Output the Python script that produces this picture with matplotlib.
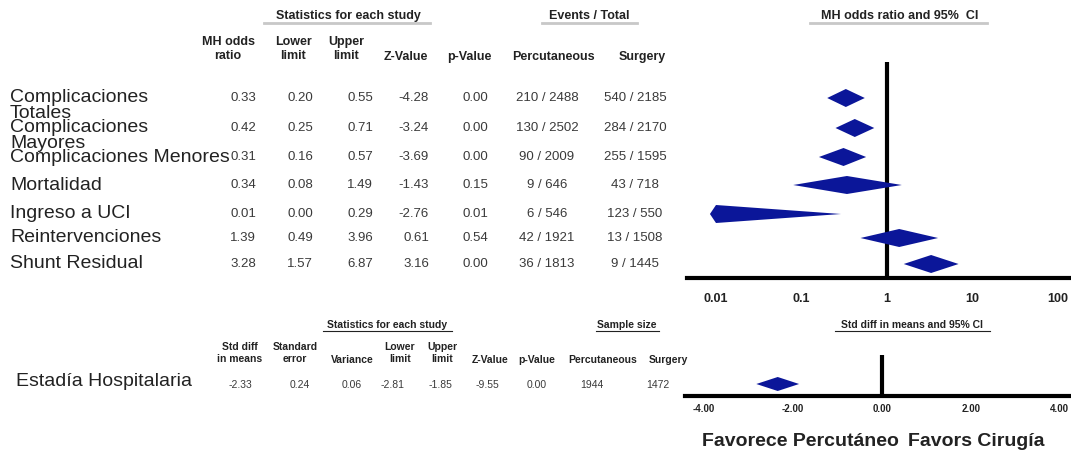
import numpy as np
import matplotlib
matplotlib.use("Agg")
from matplotlib import pyplot as plt

plt.rcParams['font.family'] = ['Liberation Sans', 'DejaVu Sans']

# ---- data: binary outcomes (MH odds ratio) ----
labels = ["Complicaciones\nTotales", "Complicaciones\nMayores", "Complicaciones Menores",
          "Mortalidad", "Ingreso a UCI", "Reintervenciones", "Shunt Residual"]
mh_or = [0.33, 0.42, 0.31, 0.34, 0.01, 1.39, 3.28]
lower = [0.20, 0.25, 0.16, 0.08, 0.00, 0.49, 1.57]
upper = [0.55, 0.71, 0.57, 1.49, 0.29, 3.96, 6.87]
z_val = [-4.28, -3.24, -3.69, -1.43, -2.76, 0.61, 3.16]
p_val = [0.00, 0.00, 0.00, 0.15, 0.01, 0.54, 0.00]
ev_perc = ["210 / 2488", "130 / 2502", "90 / 2009", "9 / 646", "6 / 546", "42 / 1921", "36 / 1813"]
ev_surg = ["540 / 2185", "284 / 2170", "255 / 1595", "43 / 718", "123 / 550", "13 / 1508", "9 / 1445"]
or_ticks = [0.01, 0.1, 1, 10, 100]
or_ticklabels = ["0.01", "0.1", "1", "10", "100"]

# ---- data: continuous outcome (std diff in means) ----
cont_label = "Estadía Hospitalaria"
smd = -2.33
smd_se = 0.24
smd_var = 0.06
smd_lo = -2.81
smd_hi = -1.85
smd_z = -9.55
smd_p = 0.00
n_perc = 1944
n_surg = 1472
smd_ticks = [-4, -2, 0, 2, 4]

# ---- layout (pixel coordinates) ----
W, H = 1071, 451
row_y = [98, 128, 157, 185, 214, 238, 264]
navy = '#0b1699'
txt = '#222222'
val = '#3a3a3a'

fig = plt.figure(figsize=(W / 100, H / 100), dpi=100)
bg = fig.add_axes([0, 0, 1, 1])
bg.set_xlim(0, W)
bg.set_ylim(H, 0)
bg.axis('off')

# top table headers
bg.text(348, 16, "Statistics for each study", ha='center', va='center', fontsize=9, fontweight='bold', color=txt)
bg.plot([264, 430], [23, 23], color='#c8c8c8', lw=2)
bg.text(589, 16, "Events / Total", ha='center', va='center', fontsize=9, fontweight='bold', color=txt)
bg.plot([542, 637], [23, 23], color='#c8c8c8', lw=2)
bg.text(900, 16, "MH odds ratio and 95%  CI", ha='center', va='center', fontsize=9, fontweight='bold', color=txt)
bg.plot([810, 987], [23, 23], color='#c8c8c8', lw=2)

for x, s in [(228, "MH odds\nratio"), (293, "Lower\nlimit"), (346, "Upper\nlimit")]:
    bg.text(x, 49, s, ha='center', va='center', fontsize=9, fontweight='bold', color=txt)
for x, s in [(406, "Z-Value"), (469, "p-Value"), (553, "Percutaneous"), (642, "Surgery")]:
    bg.text(x, 57, s, ha='center', va='center', fontsize=9, fontweight='bold', color=txt)

for i, y in enumerate(row_y):
    for j, line in enumerate(labels[i].split("\n")):
        bg.text(10, y + j * 16, line, ha='left', va='center', fontsize=14, color=txt)
    bg.text(256, y, f"{mh_or[i]:.2f}", ha='right', va='center', fontsize=9.5, color=val)
    bg.text(313, y, f"{lower[i]:.2f}", ha='right', va='center', fontsize=9.5, color=val)
    bg.text(373, y, f"{upper[i]:.2f}", ha='right', va='center', fontsize=9.5, color=val)
    bg.text(429, y, f"{z_val[i]:.2f}", ha='right', va='center', fontsize=9.5, color=val)
    bg.text(488, y, f"{p_val[i]:.2f}", ha='right', va='center', fontsize=9.5, color=val)
    bg.text(547, y, ev_perc[i], ha='center', va='center', fontsize=9.5, color=val)
    bg.text(635, y, ev_surg[i], ha='center', va='center', fontsize=9.5, color=val)

# top forest plot (log scale)
ax = fig.add_axes([687 / W, 1 - 278 / H, (W - 687) / W, (278 - 62) / H])
ax.patch.set_alpha(0)
ax.set_xscale('log')
ax.set_xlim(10 ** -2.339, 10 ** 2.152)
ax.set_ylim(278, 62)
for s in ['top', 'right', 'left']:
    ax.spines[s].set_visible(False)
ax.spines['bottom'].set_linewidth(3)
ax.axvline(1, color='black', lw=3)
ax.set_yticks([])
ax.set_xticks(or_ticks)
ax.set_xticklabels(or_ticklabels, fontsize=9, fontweight='bold', color=txt)
ax.minorticks_off()
ax.tick_params(axis='x', length=0, pad=11)
lo_drawn = np.clip(lower, 0.0085, None)
for i, y in enumerate(row_y):
    h = 9
    ax.fill([lo_drawn[i], mh_or[i], upper[i], mh_or[i]], [y, y - h, y, y + h],
            color=navy, lw=0, zorder=3)

# bottom table
bg.text(387, 325, "Statistics for each study", ha='center', va='center', fontsize=7.5, fontweight='bold', color=txt)
bg.plot([323, 452], [331, 331], color=txt, lw=0.8)
bg.text(627, 325, "Sample size", ha='center', va='center', fontsize=7.5, fontweight='bold', color=txt)
bg.plot([596, 659], [331, 331], color=txt, lw=0.8)
bg.text(912, 325, "Std diff in means and 95% CI", ha='center', va='center', fontsize=7.5, fontweight='bold', color=txt)
bg.plot([835, 990], [331, 331], color=txt, lw=0.8)

for x, s in [(240, "Std diff\nin means"), (295, "Standard\nerror"), (400, "Lower\nlimit"), (442, "Upper\nlimit")]:
    bg.text(x, 353, s, ha='center', va='center', fontsize=7.5, fontweight='bold', color=txt, linespacing=1.3)
for x, s in [(352, "Variance"), (490, "Z-Value"), (537, "p-Value"), (603, "Percutaneous"), (668, "Surgery")]:
    bg.text(x, 360, s, ha='center', va='center', fontsize=7.5, fontweight='bold', color=txt)

bg.text(16, 382, cont_label, ha='left', va='center', fontsize=14, color=txt)
cont_vals = [(240, f"{smd:.2f}"), (300, f"{smd_se:.2f}"), (352, f"{smd_var:.2f}"),
             (393, f"{smd_lo:.2f}"), (440, f"{smd_hi:.2f}"), (487, f"{smd_z:.2f}"),
             (537, f"{smd_p:.2f}"), (592, f"{n_perc}"), (658, f"{n_surg}")]
for x, s in cont_vals:
    bg.text(x, 385, s, ha='center', va='center', fontsize=7.5, color=val)

# bottom forest plot (linear)
ax2 = fig.add_axes([685 / W, 1 - 396 / H, (W - 685) / W, (396 - 355) / H])
ax2.patch.set_alpha(0)
ax2.set_xlim(-4.41, 4.25)
ax2.set_ylim(396, 355)
for s in ['top', 'right', 'left']:
    ax2.spines[s].set_visible(False)
ax2.spines['bottom'].set_linewidth(3)
ax2.axvline(0, color='black', lw=3)
ax2.set_yticks([])
ax2.set_xticks(smd_ticks)
ax2.set_xticklabels([f"{t:.2f}" for t in smd_ticks], fontsize=7, fontweight='bold', color=txt)
ax2.tick_params(axis='x', length=0, pad=6)
ax2.fill([smd_lo, smd, smd_hi, smd], [384, 377, 384, 391], color=navy, lw=0, zorder=3)

bg.text(702, 442, "Favorece Percutáneo", ha='left', va='center', fontsize=14, fontweight='bold', color=txt)
bg.text(908, 442, "Favors Cirugía", ha='left', va='center', fontsize=14, fontweight='bold', color=txt)

fig.savefig("out.png", dpi=100)
